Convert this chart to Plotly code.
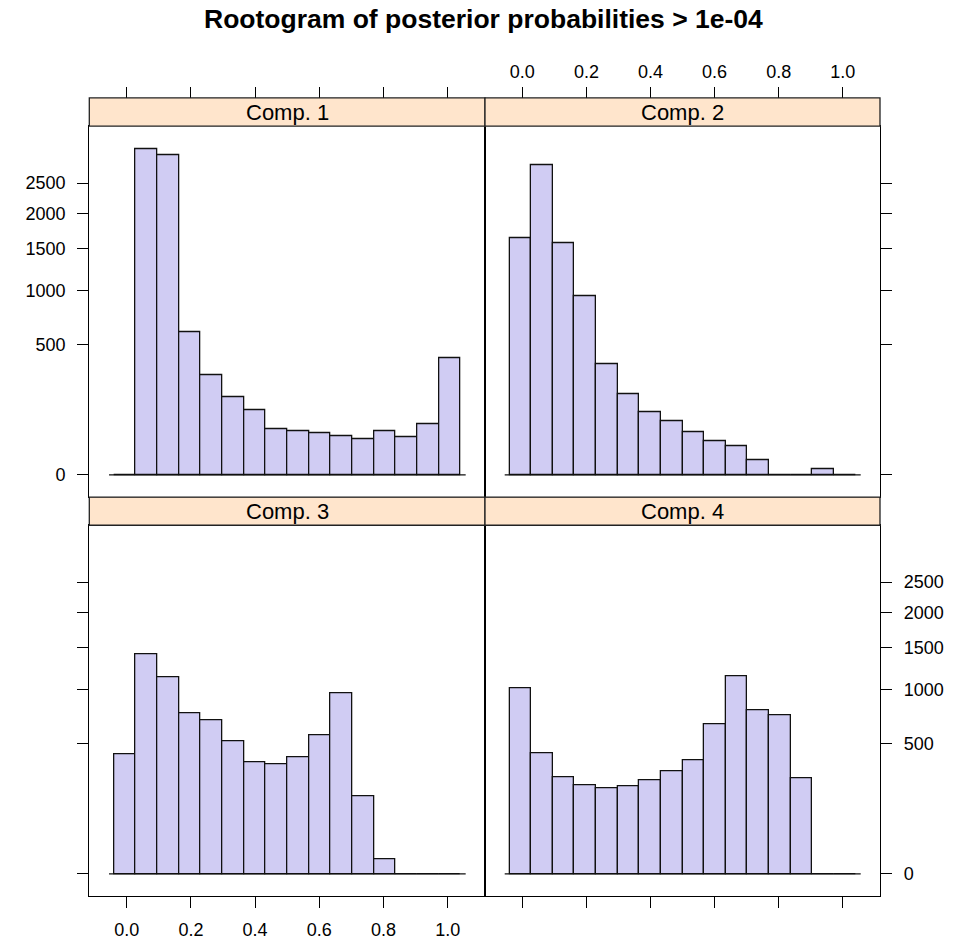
import numpy as np
import plotly.graph_objects as go

# ---- data ----
components = ["Comp. 1", "Comp. 2", "Comp. 3", "Comp. 4"]
breaks = [-0.04 + i * 0.0675 for i in range(17)]  # 16 bins from -0.04 to 1.04
counts_comp1 = [0, 3114, 3008, 601, 291, 176, 123, 62, 56, 52, 44, 37, 56, 41, 76, 403]
counts_comp2 = [1649, 2817, 1573, 933, 357, 193, 117, 86, 53, 34, 24, 6, 0, 0, 1, 0]
counts_comp3 = [422, 1422, 1135, 759, 691, 515, 368, 355, 401, 568, 961, 176, 6, 0, 0, 0]
counts_comp4 = [1015, 424, 276, 228, 215, 224, 259, 309, 378, 661, 1142, 790, 736, 271, 0, 0]
y_tick_values = [0, 500, 1000, 1500, 2000, 2500]
y_tick_labels = ["0", "500", "1000", "1500", "2000", "2500"]
x_tick_values = [0.0, 0.2, 0.4, 0.6, 0.8, 1.0]
x_tick_labels = ["0.0", "0.2", "0.4", "0.6", "0.8", "1.0"]

all_counts = [counts_comp1, counts_comp2, counts_comp3, counts_comp4]

W, H = 967, 940
FONT = "Liberation Sans"
BAR_FILL = "#D0CCF3"
STRIP_FILL = "#FFE5CC"

# panel geometry (pixels)
xl0, xmid, xr1 = 89.3, 485.0, 880.0
top_strip = (98.3, 126.7)
top_panel = (126.7, 499.3)
bot_strip = (499.3, 527.5)
bot_panel = (527.5, 900.0)

def px_x(v):
    return v / W

def px_y(v):
    return 1 - v / H

x_range = [-0.1165, 1.1162]
y_range = [-3.83, 59.75]

edges = np.array(breaks)
centers = (edges[:-1] + edges[1:]) / 2
widths = edges[1:] - edges[:-1]

fig = go.Figure()

panel_specs = {
    1: dict(xd=[px_x(xl0), px_x(xmid)], yd=[px_y(top_panel[1]), px_y(top_panel[0])]),
    2: dict(xd=[px_x(xmid), px_x(xr1)], yd=[px_y(top_panel[1]), px_y(top_panel[0])]),
    3: dict(xd=[px_x(xl0), px_x(xmid)], yd=[px_y(bot_panel[1]), px_y(bot_panel[0])]),
    4: dict(xd=[px_x(xmid), px_x(xr1)], yd=[px_y(bot_panel[1]), px_y(bot_panel[0])]),
}

tickfont = dict(family=FONT, size=18, color="black")
LW = 1.3

for i in range(1, 5):
    sfx = "" if i == 1 else str(i)
    counts = np.array(all_counts[i - 1], dtype=float)
    fig.add_trace(go.Bar(
        x=centers, y=np.sqrt(counts), width=widths,
        marker=dict(color=BAR_FILL, line=dict(color="#111111", width=LW)),
        xaxis="x" + sfx, yaxis="y" + sfx, showlegend=False,
        hovertemplate="%{x:.3f}: %{customdata}<extra></extra>", customdata=counts,
    ))
    fig.add_shape(type="line", xref="x" + sfx, yref="y" + sfx,
                  x0=-0.055, x1=1.056, y0=0, y1=0,
                  line=dict(color="#111111", width=LW), layer="above")

    top_row = i in (1, 2)
    left_col = i in (1, 3)
    spec = panel_specs[i]
    fig.update_layout(**{
        "xaxis" + sfx: dict(
            domain=spec["xd"], anchor="y" + sfx, range=x_range,
            side="bottom",
            tickvals=x_tick_values, ticktext=x_tick_labels,
            showticklabels=(i == 3),
            ticks="" if top_row else "outside", ticklen=11, tickwidth=1, tickcolor="black",
            showline=True, mirror=True, linecolor="black", linewidth=LW,
            showgrid=False, zeroline=False, tickfont=tickfont,
            ticklabelstandoff=6,
        ),
        "yaxis" + sfx: dict(
            domain=spec["yd"], anchor="x" + sfx, range=y_range,
            side="left" if left_col else "right",
            tickvals=list(np.sqrt(y_tick_values)), ticktext=y_tick_labels,
            showticklabels=(i == 1 or i == 4),
            ticks="outside", ticklen=11, tickwidth=1, tickcolor="black",
            showline=True, mirror=True, linecolor="black", linewidth=LW,
            showgrid=False, zeroline=False, tickfont=tickfont,
            ticklabelstandoff=8,
        ),
    })

# top axes above the strips (x5 over top-left, x6 over top-right)
for k, (base, yname, labels_on) in {5: ("x", "y", False), 6: ("x2", "y2", True)}.items():
    fig.add_trace(go.Scatter(x=[None], y=[None], xaxis="x%d" % k, yaxis=yname,
                             showlegend=False, hoverinfo="skip"))
    fig.update_layout(**{
        "xaxis%d" % k: dict(
            overlaying=base, anchor="free", position=px_y(top_strip[0]),
            side="top", range=x_range,
            tickvals=x_tick_values, ticktext=x_tick_labels,
            showticklabels=labels_on,
            ticks="outside", ticklen=11, tickwidth=1, tickcolor="black",
            showline=False, showgrid=False, zeroline=False, tickfont=tickfont,
            ticklabelstandoff=2,
        )
    })

# strips
strip_info = [
    (components[0], xl0, xmid, top_strip),
    (components[1], xmid, xr1, top_strip),
    (components[2], xl0, xmid, bot_strip),
    (components[3], xmid, xr1, bot_strip),
]
for label, x0, x1, (s0, s1) in strip_info:
    fig.add_shape(type="rect", xref="paper", yref="paper",
                  x0=px_x(x0), x1=px_x(x1), y0=px_y(s1), y1=px_y(s0),
                  fillcolor=STRIP_FILL, line=dict(color="#222222", width=LW), layer="above")
    fig.add_annotation(text=label, xref="paper", yref="paper",
                       x=px_x((x0 + x1) / 2), y=px_y((s0 + s1) / 2),
                       showarrow=False, xanchor="center", yanchor="middle",
                       font=dict(family=FONT, size=22, color="black"))

fig.add_annotation(text="<b>Rootogram of posterior probabilities > 1e-04</b>",
                   xref="paper", yref="paper", x=0.5, y=px_y(19),
                   showarrow=False, xanchor="center", yanchor="middle",
                   font=dict(family=FONT, size=26.5, color="black"))

fig.update_layout(
    width=W, height=H, margin=dict(l=0, r=0, t=0, b=0),
    paper_bgcolor="white", plot_bgcolor="white",
    bargap=0, showlegend=False,
)

fig.write_html("out.html")
